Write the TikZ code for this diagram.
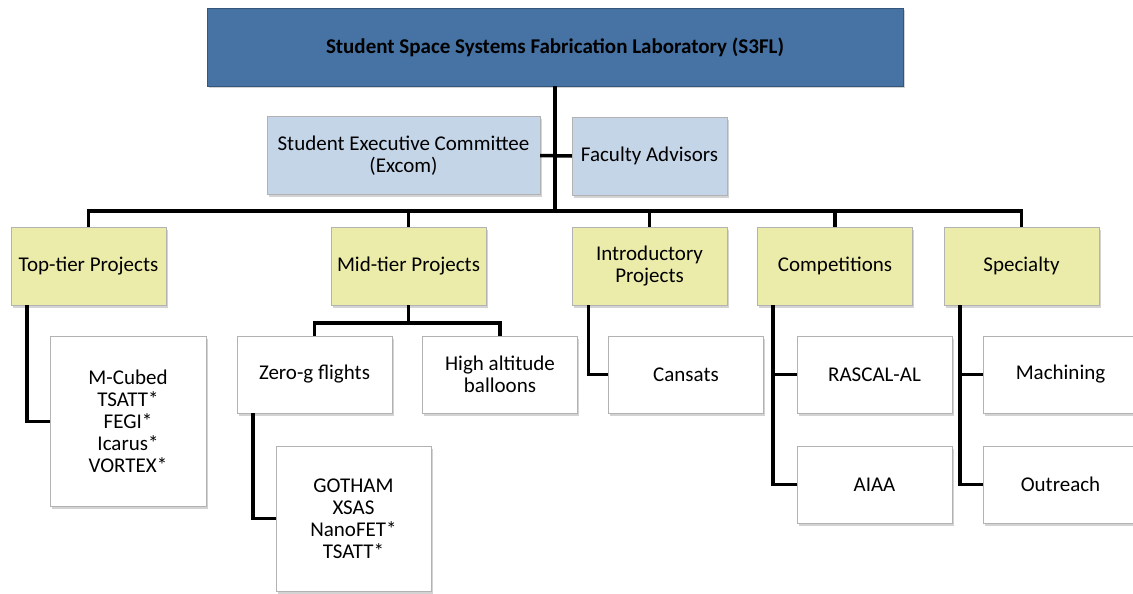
\documentclass[tikz,border=0pt]{standalone}
\usepackage{fontspec}
\setmainfont{Carlito}
\usetikzlibrary{shadows}
\definecolor{labblue}{RGB}{70,114,164}
\definecolor{paleblue}{RGB}{197,213,232}
\definecolor{paleyellow}{RGB}{236,236,170}

\begin{document}
\begin{tikzpicture}[x=1pt,y=-1pt,
  box/.style={draw=black!30, align=center, inner sep=0pt,
    font=\fontsize{21}{22}\selectfont,
    drop shadow={shadow xshift=1.5pt, shadow yshift=-2.5pt, opacity=0.35}},
  head/.style={box, fill=labblue, draw=labblue!75!black, minimum width=696pt,
    minimum height=78pt, font=\bfseries\fontsize{21}{22}\selectfont},
  board/.style={box, fill=paleblue, minimum height=78pt},
  group/.style={box, fill=paleyellow, minimum width=155pt, minimum height=78pt},
  item/.style={box, fill=white, minimum width=155pt, minimum height=77pt},
  link/.style={line width=3.5pt}]
\useasboundingbox (0,0) rectangle (1133,594);

% lab and board
\node[head] (lab) at (555,47) {Student Space Systems Fabrication Laboratory (S3FL)};
\node[board, minimum width=273pt] (excom) at (403.5,155.5) {Student Executive Committee\\(Excom)};
\node[board, minimum width=155pt] (fac) at (649.5,156) {Faculty Advisors};

% project groups
\node[group] (top) at (88.5,266) {Top-tier Projects};
\node[group] (mid) at (408.5,266) {Mid-tier Projects};
\node[group] (intro) at (649.5,266) {Introductory\\Projects};
\node[group] (comp) at (835,266) {Competitions};
\node[group] (spec) at (1021.5,266) {Specialty};

% projects
\node[item, minimum width=156pt, minimum height=170pt] (mcubed) at (128,421.5)
  {M-Cubed\\TSATT*\\FEGI*\\Icarus*\\VORTEX*};
\node[item] (zerog) at (314.5,374.5) {Zero-g flights};
\node[item] (balloon) at (500,374.5) {High altitude\\balloons};
\node[item, minimum height=145pt] (gotham) at (353.5,518.5) {GOTHAM\\XSAS\\NanoFET*\\TSATT*};
\node[item] (cansat) at (686,374.5) {Cansats};
\node[item] (rascal) at (874.5,374.5) {RASCAL-AL};
\node[item] (aiaa) at (874.5,484.5) {AIAA};
\node[item] (mach) at (1060.5,374.5) {Machining};
\node[item] (outr) at (1060.5,484.5) {Outreach};

% links
\coordinate (bus) at (555,211);
\coordinate (split) at (408.5,323);
\coordinate (cstem) at ([xshift=-62pt]comp.south);
\coordinate (sstem) at ([xshift=-61.5pt]spec.south);
\draw[link] (lab.south) -- (bus);
\draw[link] (excom.east) -- (fac.west);
\draw[link] (top.north) |- (bus) -| (spec.north);
\foreach \n in {mid,intro,comp}
  \draw[link] (\n.north) -- (\n.north |- bus);
\draw[link] ([xshift=-61.5pt]top.south) |- (mcubed.west);
\draw[link] (mid.south) -- (split);
\draw[link] (zerog.north) |- (split) -| (balloon.north);
\draw[link] ([xshift=-61.5pt]zerog.south) |- (gotham.west);
\draw[link] ([xshift=-61pt]intro.south) |- (cansat.west);
\draw[link] (cstem) |- (aiaa.west);
\draw[link] (rascal.west) -- (rascal.west -| cstem);
\draw[link] (sstem) |- (outr.west);
\draw[link] (mach.west) -- (mach.west -| sstem);
\end{tikzpicture}
\end{document}
